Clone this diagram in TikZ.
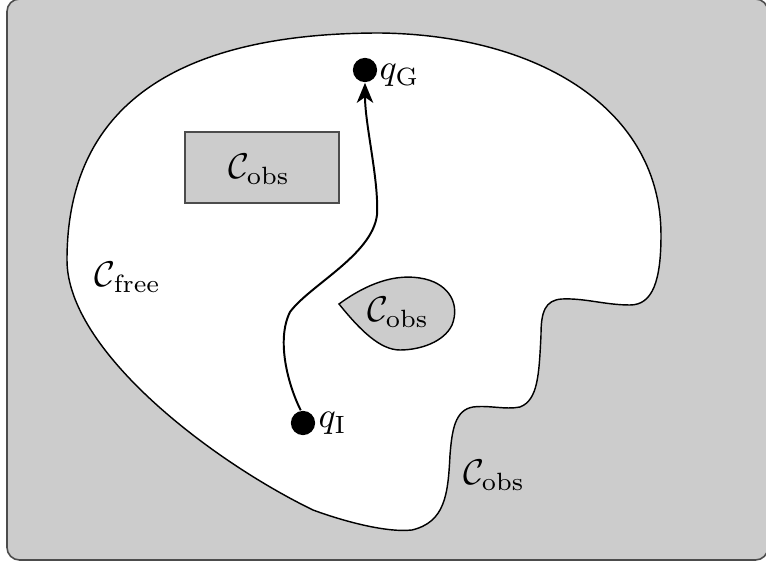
\documentclass[tikz,border=0pt]{standalone}
\usetikzlibrary{arrows.meta}
\definecolor{obsgray}{gray}{0.8}
\definecolor{edgegray}{gray}{0.3}
\begin{document}
\begin{tikzpicture}[x=0.28pt,y=-0.28pt,
  boundary/.style={draw=black,line width=0.4pt},
  obstacle/.style={fill=obsgray,draw=black,line width=0.4pt},
  robot/.style={circle,fill=black,inner sep=0pt,minimum size=6.8pt},
  lab/.style={inner sep=0pt},
  route/.style={line width=0.55pt,-{Stealth[length=5.6pt,width=4.6pt,inset=1.6pt]}}]
\useasboundingbox (0,0) rectangle (766,562);
% configuration space background (obstacle region)
\draw[fill=obsgray,draw=edgegray,line width=0.45pt,rounded corners=3.5pt] (7,-1) rectangle (768,560);
% free space
\draw[boundary,fill=white]
 (313,510) .. controls (210,460) and (67,350) .. (67,260)
 .. controls (67,90) and (200,33) .. (380,33)
 .. controls (540,35) and (661,110) .. (661,235)
 .. controls (661,280) and (653,305) .. (630,305)
 .. controls (605,305) and (585,298) .. (562,299)
 .. controls (545,300) and (541,312) .. (541,335)
 .. controls (539,375) and (538,400) .. (520,407)
 .. controls (505,410) and (490,405) .. (473,407)
 .. controls (455,410) and (452,430) .. (450,455)
 .. controls (448,495) and (445,522) .. (412,530)
 .. controls (385,533) and (340,520) .. (313,510) -- cycle;
% rectangular obstacle
\node[obstacle,draw=edgegray,rectangle,minimum width=154*0.28pt,minimum height=71*0.28pt,inner sep=0pt] (rect) at (262,167.5) {};
% teardrop obstacle
\draw[obstacle] (339,304) .. controls (365,285) and (395,272) .. (425,279)
 .. controls (450,285) and (460,305) .. (452,325)
 .. controls (444,342) and (420,350) .. (400,350)
 .. controls (380,350) and (360,330) .. (339,304) -- cycle;
% labels
\node[lab,anchor=base] (cfree) at (128,287) {$\mathcal{C}_{\mathrm{free}}$};
\node[lab,anchor=base] (cobsA) at (259,179) {$\mathcal{C}_{\mathrm{obs}}$};
\node[lab,anchor=base] (cobsB) at (398,322) {$\mathcal{C}_{\mathrm{obs}}$};
\node[lab,anchor=base] (cobsC) at (494,485) {$\mathcal{C}_{\mathrm{obs}}$};
% start and goal
\node[robot] (qG) at (365,70) {};
\node[robot] (qI) at (303,423) {};
\node[lab,anchor=base west] (lG) at (379,80) {$q_{\mathrm{G}}$};
\node[lab,anchor=base west] (lI) at (318,428) {$q_{\mathrm{I}}$};
% path
\draw[route] (qI.100) .. controls (288,385) and (276,340) .. (290,312)
 .. controls (310,285) and (372,255) .. (377,215)
 .. controls (379,180) and (365,125) .. (qG.south);
\end{tikzpicture}
\end{document}
